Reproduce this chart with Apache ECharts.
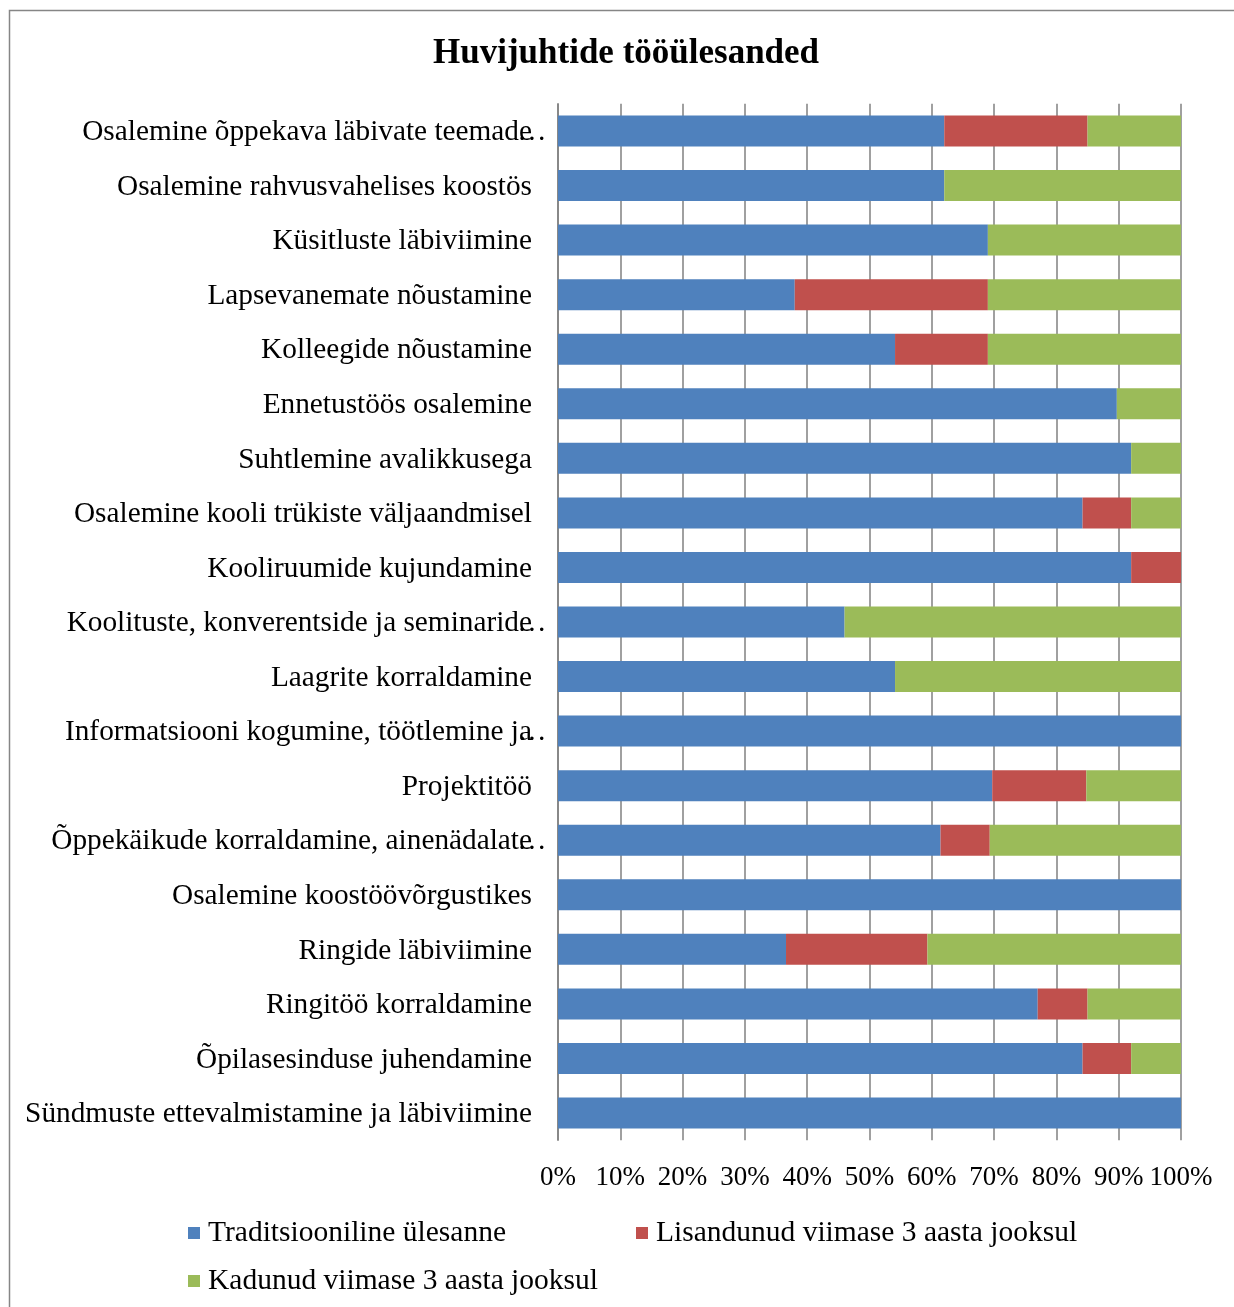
<!DOCTYPE html>
<html>
<head>
<meta charset="utf-8">
<script src="https://cdn.jsdelivr.net/npm/echarts@6/dist/echarts.min.js"></script>
<style>html,body{margin:0;padding:0;background:#fff;}#c{width:1234px;height:1307px;}</style>
</head>
<body>
<div id="c"></div>
<script>
const categories = [
  'Osalemine õppekava läbivate teemade…',
  'Osalemine rahvusvahelises koostös',
  'Küsitluste läbiviimine',
  'Lapsevanemate nõustamine',
  'Kolleegide nõustamine',
  'Ennetustöös osalemine',
  'Suhtlemine avalikkusega',
  'Osalemine kooli trükiste väljaandmisel',
  'Kooliruumide kujundamine',
  'Koolituste, konverentside ja seminaride…',
  'Laagrite korraldamine',
  'Informatsiooni kogumine, töötlemine ja…',
  'Projektitöö',
  'Õppekäikude korraldamine, ainenädalate…',
  'Osalemine koostöövõrgustikes',
  'Ringide läbiviimine',
  'Ringitöö korraldamine',
  'Õpilasesinduse juhendamine',
  'Sündmuste ettevalmistamine ja läbiviimine'
];
const traditional = [62, 62, 69, 38, 54.1, 89.7, 92, 84.2, 92, 46, 54.1, 100, 69.7, 61.4, 100, 36.6, 77, 84.2, 100];
const added       = [23, 0, 0, 31, 14.9, 0, 0, 7.8, 8, 0, 0, 0, 15.1, 7.9, 0, 22.7, 8, 7.8, 0];
const lost        = [15, 38, 31, 31, 31, 10.3, 8, 8, 0, 54, 45.9, 0, 15.2, 30.7, 0, 40.7, 15, 8, 0];
const seriesNames = ['Traditsiooniline ülesanne', 'Lisandunud viimase 3 aasta jooksul', 'Kadunud viimase 3 aasta jooksul'];
const xTicks = [0, 10, 20, 30, 40, 50, 60, 70, 80, 90, 100];
const title = 'Huvijuhtide tööülesanded';

const FONT = '"Liberation Serif", "Times New Roman", serif';
const chart = echarts.init(document.getElementById('c'), null, {renderer: 'canvas'});
const option = {
  backgroundColor: '#fff',
  animation: false,
  title: {
    text: title, left: 428, top: 31,
    textStyle: {fontFamily: FONT, fontSize: 35, fontWeight: 'bold', color: '#000'}
  },
  graphic: [{
    type: 'rect', left: 7, top: 8, shape: {x: 0, y: 0, width: 1300, height: 1400},
    style: {fill: 'none', stroke: '#868686', lineWidth: 1.5}, silent: true
  }],
  legend: [{
    data: [seriesNames[0], seriesNames[1]], left: 183, top: 1213,
    icon: 'rect', itemWidth: 12, itemHeight: 12, itemGap: 130,
    textStyle: {fontFamily: FONT, fontSize: 29.5, color: '#000', padding: [0, 0, 0, 3]}
  }, {
    data: [seriesNames[2]], left: 183, top: 1261,
    icon: 'rect', itemWidth: 12, itemHeight: 12,
    textStyle: {fontFamily: FONT, fontSize: 29.5, color: '#000', padding: [0, 0, 0, 3]}
  }],
  grid: {left: 558, right: 53, top: 103.7, bottom: 166.7, containLabel: false},
  xAxis: {
    type: 'value', min: 0, max: 100, interval: 10,
    axisLine: {show: false}, axisTick: {show: false},
    splitLine: {show: true, lineStyle: {color: '#808080', width: 1.5}},
    axisLabel: {
      margin: 24, fontFamily: FONT, fontSize: 27, color: '#000',
      formatter: v => xTicks.includes(v) ? v + '%' : ''
    }
  },
  yAxis: {
    type: 'category', data: categories, inverse: true,
    axisLine: {show: true, lineStyle: {color: '#808080', width: 1.5}},
    axisTick: {show: false},
    axisLabel: {
      margin: 26, fontFamily: FONT, fontSize: 29.3, color: '#000',
      formatter: function (v) {
        if (v.endsWith('…')) {
          return '{t|' + v.slice(0, -1) + '}{e|…}';
        }
        return '{t|' + v + '}';
      },
      rich: {
        t: {fontFamily: FONT, fontSize: 29.3, color: '#000', padding: [3, 0, 0, 0]},
        e: {fontFamily: FONT, fontSize: 29.3, color: '#000', width: 0, align: 'left', padding: [3, 0, 0, 0]}
      }
    }
  },
  series: [
    {name: seriesNames[0], type: 'bar', stack: 's', data: traditional, barWidth: 31, itemStyle: {color: '#4F81BD'}},
    {name: seriesNames[1], type: 'bar', stack: 's', data: added, barWidth: 31, itemStyle: {color: '#C0504D'}},
    {name: seriesNames[2], type: 'bar', stack: 's', data: lost, barWidth: 31, itemStyle: {color: '#9BBB59'}}
  ]
};
chart.setOption(option);
</script>
</body>
</html>
